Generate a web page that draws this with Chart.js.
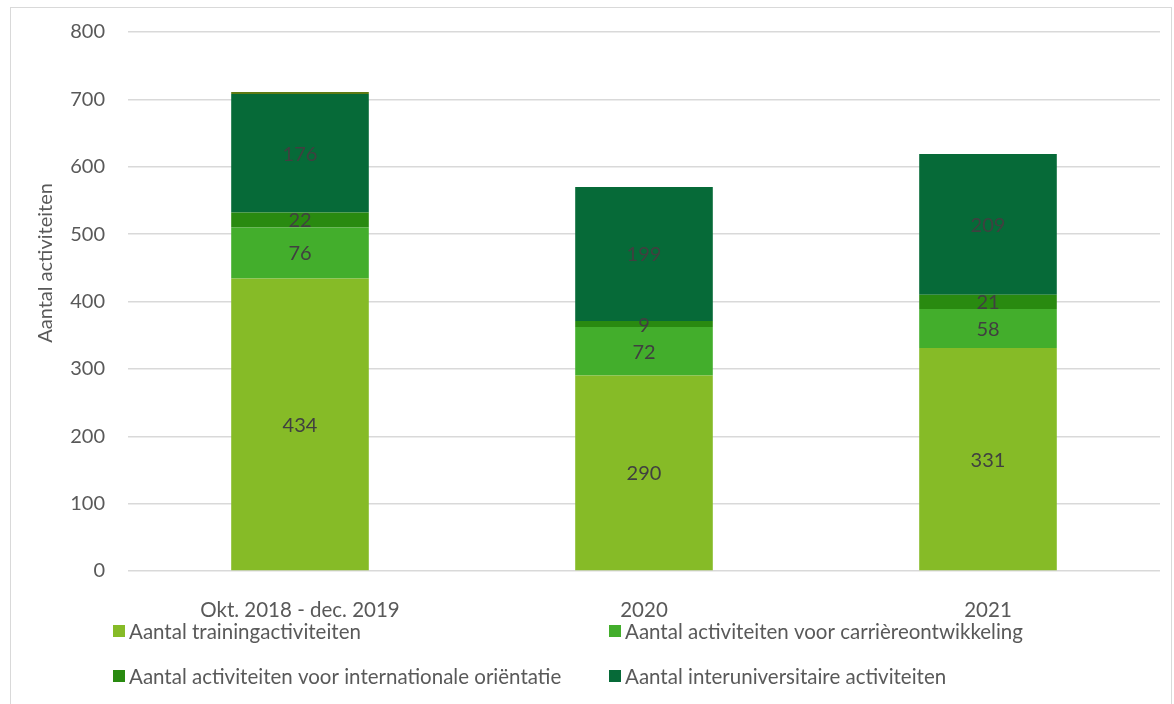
<!DOCTYPE html>
<html lang="nl">
<head>
  <meta charset="UTF-8">
  <title>Aantal activiteiten</title>
  <script src="https://cdn.jsdelivr.net/npm/chart.js"></script>
  <style>
    html, body { margin: 0; padding: 0; background: #fff; overflow: hidden; }
    #frame { position: absolute; left: 10px; top: 7px; width: 1162px; height: 720px; border: 1px solid #d9d9d9; box-sizing: border-box; }
    canvas { position: absolute; left: 0; top: 0; }
  </style>
</head>
<body>
  <div id="frame"></div>
  <canvas id="grafiek" width="1174" height="704"></canvas>
  <script>
    const categorieen = ["Okt. 2018 - dec. 2019", "2020", "2021"];
    const training = [434, 290, 331];
    const carriere = [76, 72, 58];
    const internationaal = [22, 9, 21];
    const interuniversitair = [176, 199, 209];
    const overig = [3, 0, 0];
    const yTicks = [0, 100, 200, 300, 400, 500, 600, 700, 800];

    const series = [
      { label: "Aantal trainingactiviteiten", data: training, kleur: "#86bb27", toon: true },
      { label: "Aantal activiteiten voor carrièreontwikkeling", data: carriere, kleur: "#43ae2c", toon: true },
      { label: "Aantal activiteiten voor internationale oriëntatie", data: internationaal, kleur: "#298a10", toon: true },
      { label: "Aantal interuniversitaire activiteiten", data: interuniversitair, kleur: "#066a38", toon: true },
      { label: "", data: overig, kleur: "#5e7a14", toon: false }
    ];

    const FONT = "Lato, 'Open Sans', sans-serif";
    const TEKST = "#595959";

    // labels midden in elk segment
    const waardeLabels = {
      id: "waardeLabels",
      afterDatasetsDraw(chart) {
        const ctx = chart.ctx;
        ctx.save();
        ctx.font = "20px " + FONT;
        ctx.fillStyle = "#404040";
        ctx.textAlign = "center";
        ctx.textBaseline = "middle";
        chart.data.datasets.forEach((ds, i) => {
          if (!series[i].toon) return;
          chart.getDatasetMeta(i).data.forEach((bar, j) => {
            if (!ds.data[j]) return;
            const midden = (bar.y + bar.base) / 2;
            ctx.fillText(String(ds.data[j]), bar.x, midden + 1);
          });
        });
        ctx.restore();
      }
    };

    // Excel-achtige legenda en astitel
    const extra = {
      id: "extra",
      afterDraw(chart) {
        const ctx = chart.ctx;
        ctx.save();
        ctx.font = "20.5px " + FONT;
        ctx.fillStyle = TEKST;
        ctx.textBaseline = "middle";
        const kolommen = [113, 609];
        const rijen = [631, 676];
        series.filter(s => s.toon).forEach((s, i) => {
          const x = kolommen[i % 2];
          const y = rijen[Math.floor(i / 2)];
          ctx.fillStyle = s.kleur;
          ctx.fillRect(x, y - 6, 12, 12);
          ctx.fillStyle = TEKST;
          ctx.textAlign = "left";
          ctx.fillText(s.label, x + 16, y + 1);
        });
        ctx.font = "20px " + FONT;
        ctx.translate(46, 263);
        ctx.rotate(-Math.PI / 2);
        ctx.textAlign = "center";
        ctx.fillText("Aantal activiteiten", 0, 0);
        ctx.restore();
      }
    };

    new Chart(document.getElementById("grafiek"), {
      type: "bar",
      data: {
        labels: categorieen,
        datasets: series.map(s => ({
          label: s.label,
          data: s.data,
          backgroundColor: s.kleur,
          borderWidth: 0,
          categoryPercentage: 0.4,
          barPercentage: 1
        }))
      },
      options: {
        responsive: false,
        animation: false,
        layout: { padding: { left: 0, right: 14, top: 32, bottom: 73 } },
        plugins: {
          legend: { display: false },
          tooltip: { enabled: false }
        },
        scales: {
          x: {
            stacked: true,
            grid: { display: false },
            border: { display: false },
            ticks: { color: TEKST, font: { family: FONT, size: 20.5 }, padding: 19 },
            afterFit(scale) { scale.height = 60; }
          },
          y: {
            stacked: true,
            min: 0,
            max: 800,
            afterBuildTicks(scale) { scale.ticks = yTicks.map(v => ({ value: v })); },
            grid: { color: "#d9d9d9", lineWidth: 1.5, drawTicks: false },
            border: { display: false },
            ticks: { color: TEKST, font: { family: FONT, size: 20 }, padding: 23 },
            afterFit(scale) {
              scale.width = 128;
              scale.paddingTop = 12;
              scale.paddingBottom = 12;
            }
          }
        }
      },
      plugins: [waardeLabels, extra]
    });
  </script>
</body>
</html>
